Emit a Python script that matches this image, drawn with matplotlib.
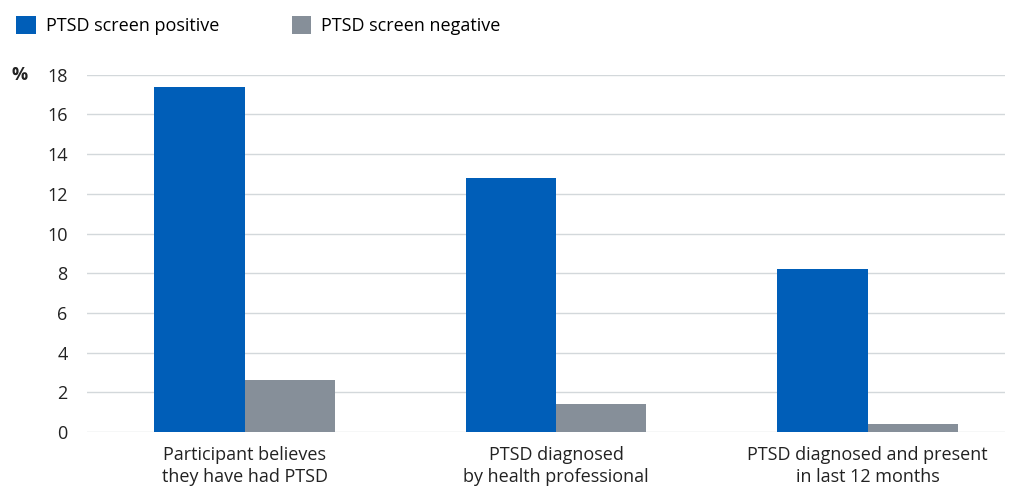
import matplotlib
matplotlib.use('Agg')
import matplotlib.pyplot as plt
import numpy as np
from matplotlib.patches import Patch

plt.rcParams['font.family'] = ['Open Sans', 'DejaVu Sans']

categories = ['Participant believes\nthey have had PTSD',
              'PTSD diagnosed\nby health professional',
              'PTSD diagnosed and present\nin last 12 months']
positive = [17.4, 12.8, 8.2]
negative = [2.6, 1.4, 0.4]
yticks = [0, 2, 4, 6, 8, 10, 12, 14, 16, 18]

BLUE = '#005EB8'
GREY = '#868F99'

fig = plt.figure(figsize=(10.14, 4.92), dpi=100)
ax = fig.add_axes([0.0858, 0.122, 0.905, 0.726])

x = np.arange(len(categories))
w = 0.29
ax.bar(x - w / 2, positive, width=w, color=BLUE, zorder=3)
ax.bar(x + w / 2, negative, width=w, color=GREY, zorder=3)

ax.set_xlim(-0.506, 2.44)
ax.set_ylim(0, 18)
ax.set_yticks(yticks)
ax.set_yticklabels([str(t) for t in yticks], fontsize=13, color='#222222')
ax.set_xticks(x)
ax.set_xticklabels(categories, fontsize=13, color='#222222', linespacing=1.3)
ax.tick_params(axis='y', length=0, pad=14)
ax.tick_params(axis='x', length=0, pad=10)
ax.grid(axis='y', color='#D3D8DB', linewidth=1.0, zorder=0)
for s in ax.spines.values():
    s.set_visible(False)

fig.text(12 / 1014, 1 - 75 / 492, '%', fontsize=13, fontweight='bold',
         va='center', ha='left', color='#222222')

handles = [Patch(facecolor=BLUE, label='PTSD screen positive'),
           Patch(facecolor=GREY, label='PTSD screen negative')]
fig.legend(handles=handles, loc='upper left', bbox_to_anchor=(0.0, 1.0),
           ncol=2, frameon=False, fontsize=13, handlelength=1.1, handleheight=1.1,
           handletextpad=0.55, columnspacing=4.0, borderaxespad=0.5)

fig.savefig('out.png', dpi=100, facecolor='white')
